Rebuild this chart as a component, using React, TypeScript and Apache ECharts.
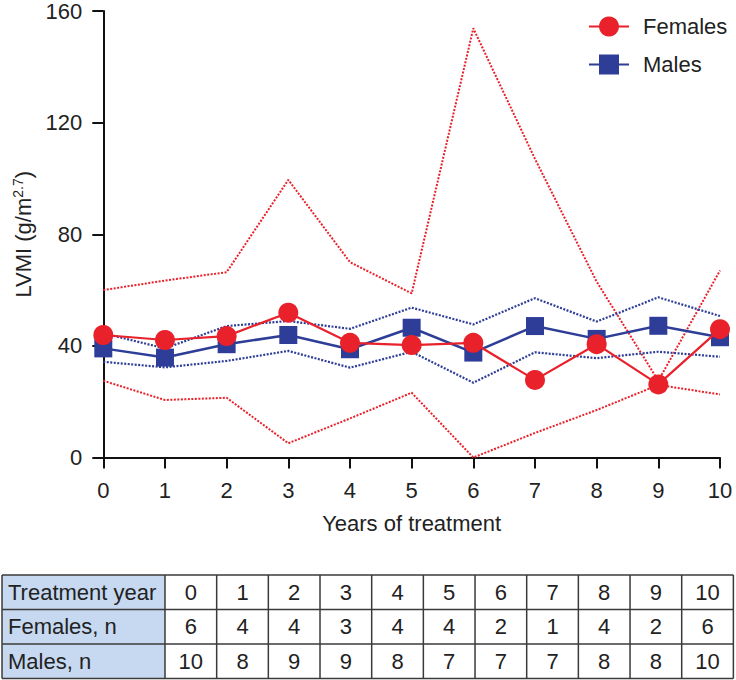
import React, { useEffect, useRef } from "react";
import * as echarts from "echarts";

const years = ["0", "1", "2", "3", "4", "5", "6", "7", "8", "9", "10"];
const femalesMean = [43.9, 42.1, 43.5, 51.9, 41.1, 40.3, 41.1, 27.8, 40.6, 26.2, 46.0];
const femalesUpper = [60, 63.4, 66.4, 99.5, 70, 58.8, 153.8, 107, 63, 27.5, 67];
const femalesLower = [27.5, 20.6, 21.4, 5.1, 14, 23.2, 0, 8.8, 17, 26, 22.6];
const malesMean = [39.1, 35.8, 40.6, 43.9, 38.8, 46.5, 37.6, 47.1, 42.5, 47.2, 43.1];
const malesUpper = [44.5, 39.1, 47.1, 48.9, 46.1, 53.7, 47.7, 57.1, 48.7, 57.4, 50.7];
const malesLower = [34.3, 32.3, 34.6, 38.2, 32.2, 37.9, 26.8, 37.7, 35.6, 37.9, 36.1];

const tableRowLabels = ["Treatment year", "Females, n", "Males, n"];
const tableYears = ["0", "1", "2", "3", "4", "5", "6", "7", "8", "9", "10"];
const femalesN = [6, 4, 4, 3, 4, 4, 2, 1, 4, 2, 6];
const malesN = [10, 8, 9, 9, 8, 7, 7, 7, 8, 8, 10];

const RED = "#E8212A";
const BLUE = "#2E3D97";
const FONT = '"Liberation Sans", Arial, Helvetica, sans-serif';

function buildTable(): any[] {
  const left = 2;
  const headW = 163;
  const colW = 51.67;
  const top = 575;
  const rowH = 34.5;
  const rows = [tableYears, femalesN.map(String), malesN.map(String)];
  const right = left + headW + colW * tableYears.length;
  const bottom = top + rowH * rows.length;
  const els: any[] = [];
  els.push({
    type: "rect",
    shape: { x: left, y: top, width: headW, height: rowH * rows.length },
    style: { fill: "#C6D9F0" },
    silent: true,
  });
  const lineStyle = { stroke: "#3a3a3a", lineWidth: 1.5 };
  for (let r = 0; r <= rows.length; r++) {
    const y = top + r * rowH;
    els.push({ type: "line", shape: { x1: left, y1: y, x2: right, y2: y }, style: lineStyle, silent: true });
  }
  const xs = [left, left + headW];
  for (let c = 1; c <= tableYears.length; c++) xs.push(left + headW + c * colW);
  xs.forEach((x) => {
    els.push({ type: "line", shape: { x1: x, y1: top, x2: x, y2: bottom }, style: lineStyle, silent: true });
  });
  tableRowLabels.forEach((lab, r) => {
    els.push({
      type: "text",
      x: left + 6,
      y: top + r * rowH + rowH / 2,
      style: { text: lab, fontSize: 22, fontFamily: FONT, fill: "#222", verticalAlign: "middle", align: "left" },
      silent: true,
    });
  });
  rows.forEach((row, r) => {
    row.forEach((v, c) => {
      els.push({
        type: "text",
        x: left + headW + c * colW + colW / 2,
        y: top + r * rowH + rowH / 2,
        style: { text: v, fontSize: 22, fontFamily: FONT, fill: "#222", verticalAlign: "middle", align: "center" },
        silent: true,
      });
    });
  });
  return els;
}

export default function App() {
  const ref = useRef<HTMLDivElement>(null);
  useEffect(() => {
    if (!ref.current) return;
    const chart = echarts.init(ref.current, undefined, { renderer: "svg" });
    const dotted = (data: number[], color: string, width: number) => ({
      type: "line",
      data,
      symbol: "none",
      silent: true,
      lineStyle: { color, width, type: [2, 1.5] },
      z: 1,
    });
    chart.setOption({
      animation: false,
      textStyle: { fontFamily: FONT },
      grid: { left: 103.3, right: 16, top: 11, bottom: 222.5, containLabel: false },
      legend: {
        data: ["Females", "Males"],
        orient: "vertical",
        left: 583,
        top: 10.5,
        itemWidth: 40,
        itemHeight: 25,
        itemGap: 16,
        textStyle: { fontSize: 22, color: "#222", fontFamily: FONT, padding: [0, 0, 0, 9] },
      },
      xAxis: {
        type: "category",
        data: years,
        boundaryGap: false,
        name: "Years of treatment",
        nameLocation: "middle",
        nameGap: 55,
        nameTextStyle: { fontSize: 22, color: "#222", fontFamily: FONT },
        axisLine: { lineStyle: { color: "#111", width: 2 } },
        axisTick: { show: true, length: 11, alignWithLabel: true, lineStyle: { color: "#111", width: 2 } },
        axisLabel: { fontSize: 22, color: "#222", margin: 22, fontFamily: FONT },
        splitLine: { show: false },
      },
      yAxis: {
        type: "value",
        min: 0,
        max: 160,
        interval: 40,
        name: "{a|LVMI (g/m}{s|2.7}{a|)}",
        nameLocation: "middle",
        nameRotate: 90,
        nameGap: 68,
        nameTextStyle: {
          rich: {
            a: { fontSize: 22, color: "#222", fontFamily: FONT, lineHeight: 24 },
            s: { fontSize: 14, color: "#222", fontFamily: FONT, verticalAlign: "top", lineHeight: 24 },
          },
        },
        axisLine: { show: true, lineStyle: { color: "#111", width: 2 } },
        axisTick: { show: true, length: 11, lineStyle: { color: "#111", width: 2 } },
        axisLabel: { fontSize: 22, color: "#222", margin: 21, fontFamily: FONT },
        splitLine: { show: false },
      },
      series: [
        dotted(femalesUpper, RED, 2),
        dotted(femalesLower, RED, 2),
        dotted(malesUpper, BLUE, 2.2),
        dotted(malesLower, BLUE, 2.2),
        {
          name: "Males",
          type: "line",
          data: malesMean,
          symbol: "rect",
          symbolSize: 18,
          lineStyle: { color: BLUE, width: 2.5 },
          itemStyle: { color: BLUE },
          z: 3,
        },
        {
          name: "Females",
          type: "line",
          data: femalesMean,
          symbol: "circle",
          symbolSize: 20,
          lineStyle: { color: RED, width: 2.2 },
          itemStyle: { color: RED },
          z: 4,
        },
      ],
      graphic: buildTable(),
    });
    return () => chart.dispose();
  }, []);
  return (
    <div
      ref={ref}
      style={{ position: "fixed", left: 0, top: 0, width: 736, height: 680, background: "#fff" }}
    />
  );
}
